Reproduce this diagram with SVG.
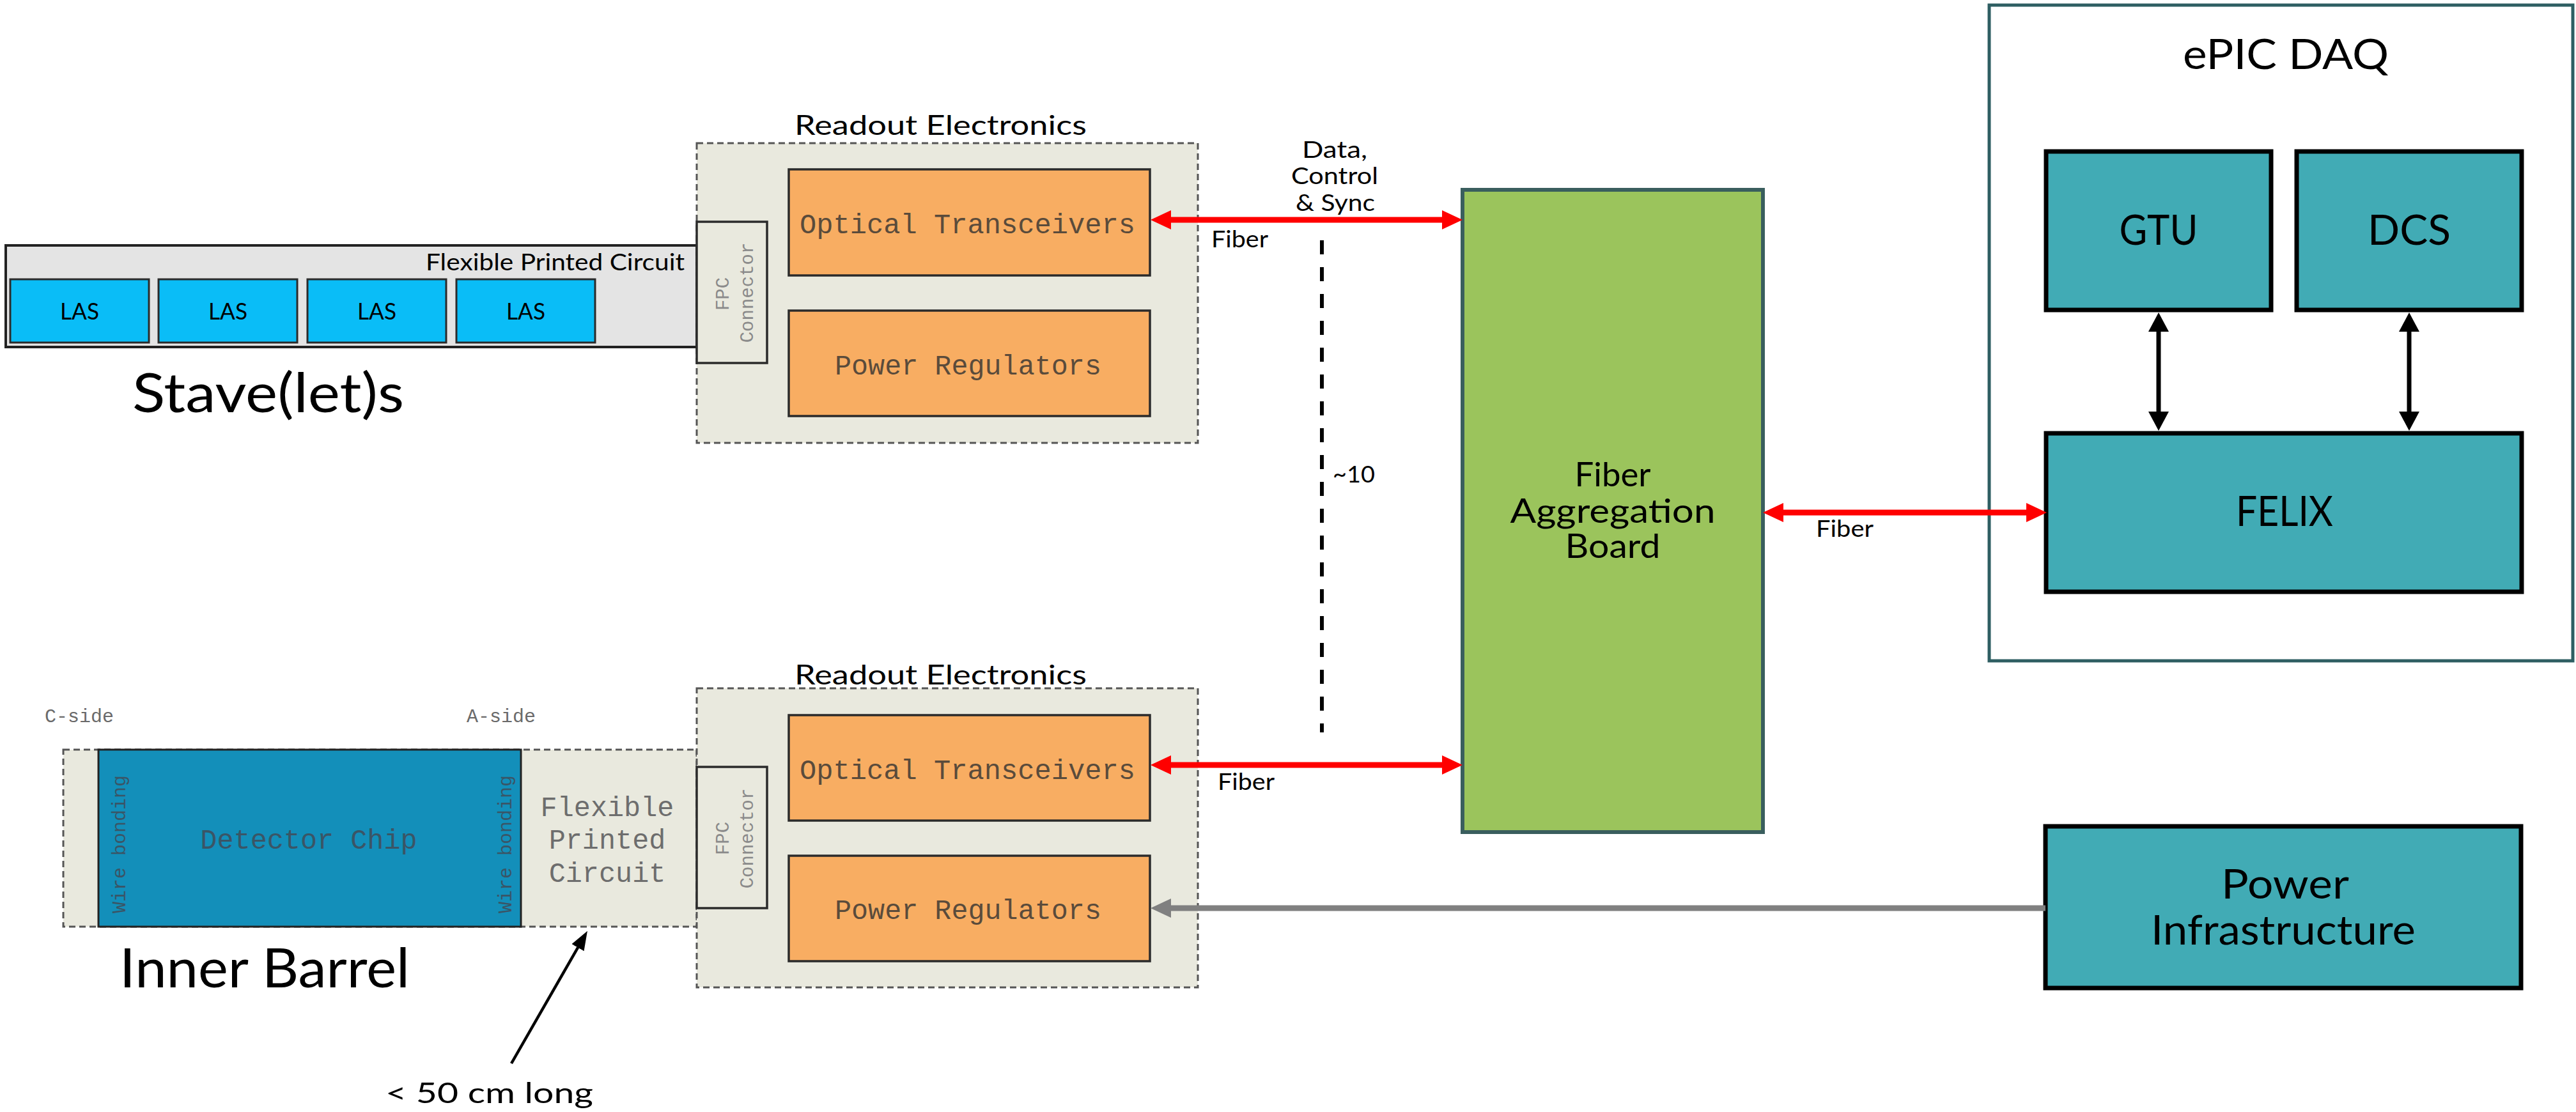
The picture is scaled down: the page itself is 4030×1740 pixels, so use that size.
<svg xmlns="http://www.w3.org/2000/svg" width="4030" height="1740" viewBox="0 0 4030 1740">
<style>
.cg{font-family:Lato,"Noto Sans","Liberation Sans",sans-serif;fill:#000}
.mono{font-family:"Liberation Mono","Courier New",monospace}
.dashbox{fill:#e9e9de;stroke:#555;stroke-width:3;stroke-dasharray:10 6}
.orange{fill:#f8ad62;stroke:#2b2b2b;stroke-width:3.5}
.conn{fill:#e9e9de;stroke:#2b2b2b;stroke-width:3.5}
.teal{fill:#41abb5;stroke:#000;stroke-width:7}
.las{fill:#0abdf7;stroke:#2b2b2b;stroke-width:3}
.otxt{fill:#5a4b3b;font-size:43.5px}
.ctxt{fill:#8a8a8a;font-size:29px}
.red{stroke:#ff0000;stroke-width:9;fill:none}
.blk{stroke:#000;stroke-width:7;fill:none}
</style>
<defs>
<marker id="ar" markerUnits="userSpaceOnUse" markerWidth="32" markerHeight="30" refX="2" refY="15" orient="auto-start-reverse"><path d="M0,0 L32,15 L0,30 z" fill="#ff0000"/></marker>
<marker id="ag" markerUnits="userSpaceOnUse" markerWidth="32" markerHeight="30" refX="2" refY="15" orient="auto-start-reverse"><path d="M0,0 L32,15 L0,30 z" fill="#808080"/></marker>
<marker id="ab" markerUnits="userSpaceOnUse" markerWidth="30" markerHeight="32" refX="2" refY="16" orient="auto-start-reverse"><path d="M0,0 L30,16 L0,32 z" fill="#000"/></marker>
<marker id="abt" markerUnits="userSpaceOnUse" markerWidth="30" markerHeight="22" refX="2" refY="11" orient="auto-start-reverse"><path d="M0,0 L30,11 L0,22 z" fill="#000"/></marker>
</defs>
<rect width="4030" height="1740" fill="#fff"/>

<g id="stave">
<rect x="9" y="384" width="1081" height="159" fill="#e4e4e4" stroke="#222" stroke-width="4"/>
<text class="cg" x="666" y="423" font-size="37" textLength="405" lengthAdjust="spacingAndGlyphs">Flexible Printed Circuit</text>
<rect class="las" x="16" y="437" width="217" height="99"/>
<rect class="las" x="248" y="437" width="217" height="99"/>
<rect class="las" x="481" y="437" width="217" height="99"/>
<rect class="las" x="714" y="437" width="217" height="99"/>
<g class="cg" font-size="37" text-anchor="middle">
<text x="124.5" y="500" textLength="61" lengthAdjust="spacingAndGlyphs">LAS</text>
<text x="356.5" y="500" textLength="61" lengthAdjust="spacingAndGlyphs">LAS</text>
<text x="589.5" y="500" textLength="61" lengthAdjust="spacingAndGlyphs">LAS</text>
<text x="822.5" y="500" textLength="61" lengthAdjust="spacingAndGlyphs">LAS</text>
</g>
<text class="cg" x="207" y="645" font-size="86" textLength="425" lengthAdjust="spacingAndGlyphs">Stave(let)s</text>
</g>

<g id="inner-barrel">
<rect class="dashbox" x="99" y="1173" width="991" height="277"/>
<rect x="154" y="1173" width="661" height="277" fill="#138fba" stroke="#222" stroke-width="3"/>
<text class="mono" x="483" y="1328" font-size="43.5" fill="#3a5566" text-anchor="middle">Detector Chip</text>
<text class="mono" transform="translate(196,1321) rotate(-90)" font-size="30" fill="#3a5566" text-anchor="middle">Wire bonding</text>
<text class="mono" transform="translate(800,1321) rotate(-90)" font-size="30" fill="#3a5566" text-anchor="middle">Wire bonding</text>
<g class="mono" font-size="43.5" fill="#6d6d6d" text-anchor="middle">
<text x="950" y="1277">Flexible</text>
<text x="950" y="1328">Printed</text>
<text x="950" y="1380">Circuit</text>
</g>
<text class="mono" x="70" y="1130" font-size="30" fill="#6a6a6a">C-side</text>
<text class="mono" x="730" y="1130" font-size="30" fill="#6a6a6a">A-side</text>
<text class="cg" x="187" y="1545" font-size="86" textLength="454" lengthAdjust="spacingAndGlyphs">Inner Barrel</text>
<text class="cg" x="603" y="1726" font-size="44" textLength="325" lengthAdjust="spacingAndGlyphs">&lt; 50 cm long</text>
</g>

<g id="readout-top">
<text class="cg" x="1243" y="211" font-size="43" textLength="457" lengthAdjust="spacingAndGlyphs">Readout Electronics</text>
<rect class="dashbox" x="1090" y="224" width="784" height="469"/>
<rect class="conn" x="1090" y="347" width="110" height="221"/>
<text class="mono ctxt" transform="translate(1140,460) rotate(-90)" text-anchor="middle">FPC</text>
<text class="mono ctxt" transform="translate(1178,458) rotate(-90)" text-anchor="middle">Connector</text>
<rect class="orange" x="1234" y="265" width="565" height="166"/>
<text class="mono otxt" x="1251" y="365" textLength="525" lengthAdjust="spacingAndGlyphs">Optical Transceivers</text>
<rect class="orange" x="1234" y="486" width="565" height="165"/>
<text class="mono otxt" x="1306" y="586" textLength="417" lengthAdjust="spacingAndGlyphs">Power Regulators</text>
</g>

<g id="readout-bottom">
<text class="cg" x="1243" y="1071" font-size="43" textLength="457" lengthAdjust="spacingAndGlyphs">Readout Electronics</text>
<rect class="dashbox" x="1090" y="1077" width="784" height="468"/>
<rect class="conn" x="1090" y="1200" width="110" height="221"/>
<text class="mono ctxt" transform="translate(1140,1312) rotate(-90)" text-anchor="middle">FPC</text>
<text class="mono ctxt" transform="translate(1178,1312) rotate(-90)" text-anchor="middle">Connector</text>
<rect class="orange" x="1234" y="1119" width="565" height="165"/>
<text class="mono otxt" x="1251" y="1219" textLength="525" lengthAdjust="spacingAndGlyphs">Optical Transceivers</text>
<rect class="orange" x="1234" y="1339" width="565" height="165"/>
<text class="mono otxt" x="1306" y="1438" textLength="417" lengthAdjust="spacingAndGlyphs">Power Regulators</text>
</g>

<g id="fiber-aggregation-board">
<rect x="2288" y="297" width="470" height="1005" fill="#9bc45c" stroke="#3a5e5e" stroke-width="6"/>
<g class="cg" font-size="52" text-anchor="middle">
<text x="2523" y="761" textLength="119" lengthAdjust="spacingAndGlyphs">Fiber</text>
<text x="2523" y="818" textLength="321" lengthAdjust="spacingAndGlyphs">Aggregation</text>
<text x="2523" y="873" textLength="149" lengthAdjust="spacingAndGlyphs">Board</text>
</g>
</g>

<g id="epic-daq">
<rect x="3112" y="8" width="913" height="1026" fill="#fff" stroke="#2e5e62" stroke-width="5"/>
<text class="cg" x="3415" y="108" font-size="66" textLength="322" lengthAdjust="spacingAndGlyphs">ePIC DAQ</text>
</g>
<g id="gtu">
<rect class="teal" x="3201" y="237" width="352" height="248"/>
<text class="cg" x="3377" y="383" font-size="66" text-anchor="middle" textLength="123" lengthAdjust="spacingAndGlyphs">GTU</text>
</g>
<g id="dcs">
<rect class="teal" x="3593" y="237" width="352" height="248"/>
<text class="cg" x="3769" y="383" font-size="66" text-anchor="middle" textLength="130" lengthAdjust="spacingAndGlyphs">DCS</text>
</g>
<g id="felix">
<rect class="teal" x="3201" y="678" width="744" height="248"/>
<text class="cg" x="3574" y="823" font-size="66" text-anchor="middle" textLength="152" lengthAdjust="spacingAndGlyphs">FELIX</text>
</g>
<g id="power-infrastructure">
<rect class="teal" x="3200" y="1293" width="744" height="253"/>
<text class="cg" x="3575" y="1406" font-size="64" text-anchor="middle" textLength="200" lengthAdjust="spacingAndGlyphs">Power</text>
<text class="cg" x="3572" y="1478" font-size="64" text-anchor="middle" textLength="414" lengthAdjust="spacingAndGlyphs">Infrastructure</text>
</g>

<g id="connectors">
<line class="red" x1="1830" y1="344" x2="2258" y2="344" marker-start="url(#ar)" marker-end="url(#ar)"/>
<line class="red" x1="1830" y1="1197" x2="2258" y2="1197" marker-start="url(#ar)" marker-end="url(#ar)"/>
<line class="red" x1="2788" y1="802" x2="3172" y2="802" marker-start="url(#ar)" marker-end="url(#ar)"/>
<line x1="3200" y1="1421" x2="1830" y2="1421" stroke="#808080" stroke-width="9" marker-end="url(#ag)"/>
<line class="blk" x1="3377" y1="517" x2="3377" y2="646" marker-start="url(#ab)" marker-end="url(#ab)"/>
<line class="blk" x1="3769" y1="517" x2="3769" y2="646" marker-start="url(#ab)" marker-end="url(#ab)"/>
<line x1="800" y1="1664" x2="905" y2="1481" stroke="#000" stroke-width="4.5" marker-end="url(#abt)"/>
<line x1="2068" y1="376" x2="2068" y2="1146" stroke="#000" stroke-width="6" stroke-dasharray="22 20"/>
<g class="cg" font-size="36">
<text x="2088" y="247" text-anchor="middle" textLength="102" lengthAdjust="spacingAndGlyphs">Data,</text>
<text x="2088" y="288" text-anchor="middle" textLength="136" lengthAdjust="spacingAndGlyphs">Control</text>
<text x="2089" y="330" text-anchor="middle" textLength="124" lengthAdjust="spacingAndGlyphs">&amp; Sync</text>
<text x="1895" y="387" textLength="89" lengthAdjust="spacingAndGlyphs">Fiber</text>
<text x="2085" y="755" textLength="66" lengthAdjust="spacingAndGlyphs">~10</text>
<text x="2841" y="840" textLength="90" lengthAdjust="spacingAndGlyphs">Fiber</text>
<text x="1905" y="1236" textLength="89" lengthAdjust="spacingAndGlyphs">Fiber</text>
</g>
</g>
</svg>
